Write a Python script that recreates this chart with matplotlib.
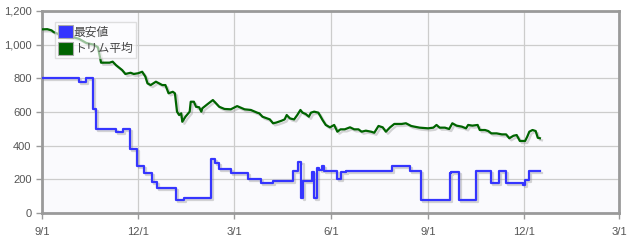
import numpy as np
import matplotlib
matplotlib.use("Agg")
import matplotlib.pyplot as plt
import matplotlib.patheffects as pe
from matplotlib.patches import Patch
from matplotlib.ticker import FuncFormatter

start = np.datetime64("2023-09-01")

# 最安値 (step changes): day offset from 2023-09-01, value
min_days = [0, 35, 42, 48, 51, 70, 77, 83, 90, 97, 104, 109, 127, 135, 160, 164, 168, 179,
            195, 208, 219, 238, 243, 246, 247, 256, 258, 261, 263, 265, 267, 280, 283, 288,
            332, 349, 359, 387, 388, 395, 411, 426, 433, 440, 456, 458, 462, 472]
min_vals = [800, 780, 800, 620, 500, 480, 500, 380, 280, 240, 185, 150, 80, 90, 320, 300, 260, 240,
            200, 180, 190, 250, 305, 90, 190, 245, 90, 270, 255, 280, 250, 200, 245, 250,
            280, 250, 80, 240, 245, 80, 250, 180, 250, 180, 165, 195, 250, 250]

# トリム平均: day offset from 2023-09-01, value
trim_days = [0, 5, 9, 11, 16, 22, 28, 35, 42, 49, 53, 56, 64, 67, 70, 76, 79, 84, 87, 91, 95,
             98, 100, 103, 108, 111, 114, 117, 120, 124, 126, 128, 130, 132, 133, 136, 140, 141,
             144, 146, 149, 151, 152, 157, 162, 165, 168, 173, 179, 185, 192, 198, 204, 206, 209,
             216, 219, 222, 227, 230, 232, 235, 239, 242, 245, 247, 250, 253, 255, 258, 262, 266,
             269, 273, 277, 280, 283, 287, 292, 296, 300, 303, 307, 312, 315, 319, 323, 326, 330,
             334, 341, 345, 350, 353, 358, 366, 371, 374, 377, 382, 386, 389, 393, 398, 402, 404,
             408, 413, 415, 420, 423, 426, 431, 436, 440, 443, 447, 450, 453, 458, 460, 462, 465,
             468, 470, 472]
trim_vals = [1091, 1092, 1085, 1075, 1062, 1050, 1047, 1035, 1010, 1000, 985, 893, 893, 899, 879,
             849, 826, 833, 826, 830, 839, 810, 770, 760, 780, 770, 760, 760, 711, 720, 711, 602,
             582, 592, 542, 572, 602, 661, 661, 631, 628, 602, 622, 647, 671, 651, 631, 618, 616,
             635, 616, 612, 596, 592, 572, 556, 533, 537, 548, 556, 582, 562, 556, 582, 612, 596,
             588, 572, 596, 602, 596, 552, 523, 509, 523, 483, 497, 497, 509, 497, 497, 483, 489,
             483, 477, 517, 509, 483, 509, 529, 529, 533, 517, 513, 507, 503, 507, 523, 507, 507,
             499, 533, 519, 513, 503, 523, 519, 523, 493, 493, 487, 473, 473, 467, 467, 444, 459,
             463, 428, 428, 453, 483, 493, 487, 447, 444]

y_ticks = [0, 200, 400, 600, 800, 1000, 1200]
x_tick_dates = ["2023-09-01", "2023-12-01", "2024-03-01", "2024-06-01",
                "2024-09-01", "2024-12-01", "2025-03-01"]
x_tick_labels = ["9/1", "12/1", "3/1", "6/1", "9/1", "12/1", "3/1"]
series_names = ["最安値", "トリム平均"]
colors = ["#3535ff", "#006400"]

plt.rcParams["font.family"] = ["Liberation Sans", "Noto Sans CJK JP", "DejaVu Sans"]

fig = plt.figure(figsize=(6.34, 2.42), dpi=100)
ax = fig.add_axes([42 / 634, 1 - 213 / 242, 577 / 634, 202 / 242])
ax.set_facecolor("#fafafd")

shadow = [pe.SimpleLineShadow(offset=(1.5, -1.5), shadow_color="#888888", alpha=0.35),
          pe.Normal()]

min_dates = (start + np.array(min_days).astype("timedelta64[D]")).astype(object)
trim_dates = (start + np.array(trim_days).astype("timedelta64[D]")).astype(object)

ax.plot(min_dates, min_vals, drawstyle="steps-post",
        color=colors[0], lw=1.6, path_effects=shadow, zorder=3)
ax.plot(trim_dates, trim_vals,
        color=colors[1], lw=1.6, path_effects=shadow, zorder=4)

xt = [np.datetime64(d).astype(object) for d in x_tick_dates]
ax.set_xlim(xt[0], xt[-1])
ax.set_ylim(0, 1200)
ax.set_xticks(xt)
ax.set_xticklabels(x_tick_labels)
ax.set_yticks(y_ticks)
ax.yaxis.set_major_formatter(FuncFormatter(lambda v, p: f"{int(v):,}"))

ax.grid(True, color="#cccccc", lw=0.9)
ax.set_axisbelow(True)
for s in ax.spines.values():
    s.set_color("#9a9a9a")
    s.set_linewidth(2)
ax.tick_params(axis="both", colors="#9a9a9a", labelcolor="#555555", labelsize=8,
               length=4, width=1)
ax.tick_params(axis="x", pad=6)

handles = [Patch(facecolor=c, edgecolor="#aaaaaa", lw=0.8) for c in colors]
leg = ax.legend(handles, series_names, loc="upper left",
                bbox_to_anchor=((55 - 42) / 577, (213 - 22) / 202), borderaxespad=0,
                prop={"family": ["Noto Sans CJK JP", "DejaVu Sans"], "size": 8.5},
                handlelength=1.3, handleheight=1.3, handletextpad=0.05, labelspacing=0.3,
                borderpad=0.25, fancybox=False, framealpha=0.6, edgecolor="#cccccc")
for t in leg.get_texts():
    t.set_color("#444444")
leg.set_zorder(10)

fig.savefig("out.png", dpi=100, facecolor="white")
